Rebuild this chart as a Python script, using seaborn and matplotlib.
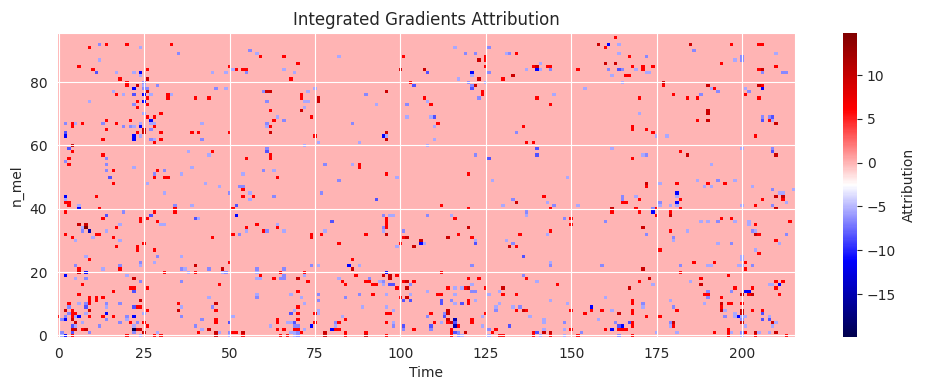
import numpy as np
import seaborn as sns
import matplotlib.pyplot as plt

# attribution levels
R, D, T = 6.1, 9.6, 14.8
A, P, M, B, K, N = -5.5, -6.5, -8.4, -11.2, -15.0, -19.9
BASE = 0.0

n_time = 216
n_mel = 96

top_left = [(9,91,R),(12,92,P),(14,92,R),(20,92,R),(24,91,A),(33,92,R),(35,89,P),(12,87,A),(6,85,R),(10,84,R),(11,83,M),(17,83,A),(22,83,A),(24,83,B),(24,82,A),(26,84,R),(18,81,R),(26,81,D),(20,80,R),(20,79,R),(23,79,D),(25,80,P),(25,79,A),(26,78,P),(25,78,P),(22,78,B),(29,79,P),(16,77,A),(26,77,D),(17,76,R),(19,76,A),(22,76,M),(25,76,B),(27,76,A),(32,76,R),(32,75,R),(33,76,A),(26,75,R),(40,75,R),(44,75,R),(46,78,P),(49,78,A),(9,74,A),(23,74,R),(25,74,B),(22,73,P),(26,73,R),(23,72,R),(25,70,A),(30,70,R),(26,69,R),(28,69,R),(27,68,B),(21,68,R),(14,68,R),(2,67,P),(4,67,R),(4,66,R),(5,67,A),(7,67,R),(13,67,P),(17,67,R),(24,67,A),(27,67,A),(28,67,A),(42,67,A),(19,66,P),(21,66,P),(22,66,A),(24,66,B),(28,66,R),(14,65,R),(27,65,P),(25,65,D),(25,64,D),(2,64,M),(2,63,B),(23,64,R),(30,64,R),(39,64,R),(41,64,R),(50,64,R),(22,63,B),(24,63,A),(50,85,R),(51,84,A),(52,84,R),(54,84,R),(45,83,A),(49,83,A)]

top_mid = [(56,90,P),(58,89,A),(59,88,R),(66,88,R),(82,88,A),(101,88,R),(70,86,R),(55,84,R),(55,83,P),(66,84,A),(69,83,A),(68,81,R),(100,84,D),(107,84,D),(108,83,M),(103,80,R),(104,79,M),(60,77,P),(61,77,D),(62,77,D),(73,77,A),(75,78,A),(71,76,R),(71,75,R),(90,76,P),(96,77,D),(61,74,P),(72,74,A),(73,74,A),(76,75,D),(76,74,D),(93,73,A),(102,73,P),(107,75,R),(108,74,A),(62,71,R),(71,71,D),(72,72,A),(64,69,A),(74,69,R),(102,69,A),(63,68,R),(66,68,P),(61,67,P),(61,66,A),(62,66,R),(62,64,D),(86,67,P),(96,64,D),(96,63,A),(95,63,B),(75,63,R)]

top_right = [(116,91,A),(119,89,P),(122,89,P),(126,91,P),(125,88,R),(125,87,R),(123,87,D),(131,89,A),(132,89,P),(134,89,R),(158,92,D),(161,92,B),(160,91,R),(125,85,R),(141,86,A),(139,85,R),(140,85,D),(143,85,R),(144,85,R),(137,84,A),(140,84,B),(141,84,A),(144,84,P),(152,84,R),(160,86,D),(161,84,P),(162,82,A),(121,83,B),(121,82,A),(126,83,P),(133,82,D),(123,81,D),(130,81,R),(117,81,A),(120,80,P),(125,80,A),(121,79,P),(122,79,D),(121,78,M),(124,77,R),(124,76,R),(154,78,A),(145,76,A),(123,75,P),(140,75,R),(144,73,R),(108,74,A),(109,73,R),(109,69,A),(110,69,M),(111,67,R),(110,66,A),(136,66,R),(134,64,P),(163,94,R),(164,92,A),(185,92,D),(197,92,R),(205,92,R),(206,92,R),(186,90,P),(164,89,A),(167,88,R),(172,88,P),(210,89,A),(163,86,D),(198,87,A),(200,88,P),(200,87,P),(194,86,R),(168,85,R),(171,85,R),(171,84,R),(174,85,R),(210,85,R),(164,84,M),(165,84,P),(169,84,A),(205,84,R),(206,84,D),(206,83,P),(172,83,A),(173,83,A),(212,83,P),(213,83,P),(166,82,R),(167,82,R),(165,80,A),(177,80,D),(177,79,R),(190,79,D),(191,78,A),(192,78,R),(193,77,P),(180,76,R),(188,76,P),(170,75,R),(184,75,R),(187,75,R),(170,70,A),(190,71,D),(190,70,D),(187,68,R),(190,68,D),(168,66,R),(168,65,R),(172,65,R),(174,64,R),(175,63,A),(178,63,A),(205,79,D),(206,79,R),(206,78,B),(201,78,A),(202,77,P),(201,76,R),(205,75,R),(206,69,P),(206,68,M),(208,69,P),(209,69,M),(208,68,R),(209,68,A),(210,67,D),(204,63,R)]

mid_left = [(22,62,B),(13,62,R),(27,62,P),(28,62,A),(30,62,R),(28,61,R),(42,62,P),(4,60,D),(3,59,M),(4,58,R),(13,57,R),(14,56,P),(3,56,R),(2,55,P),(3,54,R),(14,54,P),(38,58,A),(44,57,A),(45,58,R),(22,53,A),(39,53,A),(14,52,P),(16,52,R),(29,52,R),(31,52,P),(28,51,P),(28,50,R),(36,51,A),(31,50,R),(32,50,R),(15,50,M),(16,48,R),(26,48,A),(43,48,A),(54,51,A),(47,47,A),(53,47,P),(54,47,P),(54,46,R),(31,45,A),(50,45,P),(54,44,R),(2,44,B),(2,43,A),(11,44,R),(2,42,R),(3,42,R),(3,41,R),(6,41,A),(6,40,B),(12,40,R),(34,41,P),(34,40,R),(34,39,R),(39,41,A),(52,41,M),(51,40,R),(2,39,R),(19,39,P),(28,39,R),(14,38,M),(27,38,M),(52,38,B),(13,37,R),(24,37,R),(24,36,R),(26,37,R),(40,37,M),(41,37,A),(29,36,R),(6,35,D),(8,35,D),(8,34,T),(7,34,A),(9,33,K),(7,33,P),(18,35,A),(17,34,R),(30,35,A),(31,35,A),(14,33,A),(2,32,R),(11,32,R),(12,32,R),(51,32,R),(53,32,P)]

mid_mid = [(72,60,A),(76,61,A),(88,61,A),(95,63,B),(96,63,A),(96,62,D),(108,60,A),(61,59,P),(61,58,M),(55,56,R),(62,57,R),(62,56,R),(78,54,P),(86,54,A),(88,54,R),(88,53,R),(54,51,A),(60,52,P),(63,52,A),(64,50,R),(96,51,R),(99,50,A),(82,49,P),(56,45,A),(57,44,R),(56,43,A),(63,44,P),(77,45,P),(93,43,M),(95,38,P),(97,38,A),(98,38,A),(108,38,P),(96,37,R),(96,36,R),(96,35,R),(96,34,R),(95,34,P),(95,33,A),(96,32,D),(80,36,M),(58,35,R),(55,34,R),(55,33,A),(64,35,A),(64,34,R),(60,33,R),(61,33,P),(66,33,A),(74,32,R),(77,32,R),(90,32,R),(78,33,A),(101,33,P)]

mid_right = [(110,62,A),(137,61,R),(139,61,R),(140,59,M),(140,57,M),(162,59,A),(122,57,P),(126,56,M),(120,51,R),(127,49,A),(149,50,A),(142,44,R),(133,43,P),(134,42,D),(143,42,A),(112,41,R),(130,41,A),(145,41,P),(152,41,A),(120,40,R),(144,40,R),(162,40,D),(162,39,R),(108,38,P),(115,38,A),(137,39,P),(137,38,A),(116,37,R),(148,37,P),(150,37,R),(150,35,R),(160,36,P),(120,34,D),(144,33,R),(117,32,R),(135,32,R),(143,32,A),(182,58,R),(184,57,D),(171,57,A),(172,57,P),(168,56,R),(191,54,A),(200,59,A),(209,59,P),(209,58,M),(210,57,D),(187,49,A),(193,49,P),(198,49,A),(172,48,D),(172,47,R),(176,48,A),(181,48,R),(190,48,R),(195,48,R),(189,47,A),(191,47,A),(203,47,A),(209,46,P),(215,46,A),(211,45,A),(212,45,A),(165,44,P),(165,43,P),(169,44,A),(170,43,R),(165,42,R),(166,42,R),(181,45,B),(181,44,A),(182,43,R),(181,42,B),(176,42,P),(176,41,A),(179,41,A),(181,41,A),(169,40,R),(170,39,R),(174,40,P),(174,39,B),(175,40,R),(175,38,R),(179,39,R),(179,38,D),(182,40,R),(200,41,A),(204,41,R),(209,41,P),(210,40,D),(210,44,D),(212,44,D),(212,43,R),(213,42,A),(206,43,R),(188,36,A),(190,36,A),(193,36,P),(198,36,A),(202,36,A),(202,35,A),(194,37,R),(197,37,R),(204,35,R),(214,36,R),(171,34,D),(179,33,R),(184,33,A),(203,33,P),(204,33,A),(172,32,P),(204,32,D),(205,32,R),(213,32,P)]

low_left = [(4,31,R),(10,31,A),(16,31,R),(45,31,R),(5,30,A),(18,30,A),(17,28,R),(23,28,R),(23,27,R),(25,29,R),(28,27,R),(8,25,A),(29,25,P),(36,25,A),(9,24,R),(28,23,A),(24,23,P),(50,23,R),(5,22,P),(18,22,P),(24,22,A),(40,22,D),(6,21,R),(13,21,A),(18,21,R),(36,21,P),(37,21,A),(44,21,P),(48,21,D),(6,20,D),(8,20,B),(31,20,R),(38,20,A),(40,20,R),(48,20,A),(49,20,P),(2,19,B),(20,19,A),(5,18,A),(8,18,P),(22,18,D),(24,17,P),(36,17,P),(7,16,R),(47,16,R),(21,15,R),(22,15,R),(26,15,R),(16,14,R),(22,14,M),(6,13,R),(44,12,A),(9,12,R),(9,11,R),(11,12,R),(11,11,R),(13,12,R),(24,11,D),(3,10,R),(6,10,A),(8,10,P),(9,10,R),(14,10,P),(18,10,P),(35,10,R),(46,10,D),(3,9,P),(8,9,M),(14,9,A),(22,9,M),(23,9,R),(24,9,R),(36,9,A),(45,9,P),(2,8,D),(4,8,R),(9,8,D),(26,8,R),(35,8,D),(46,8,R),(3,7,P),(4,7,R),(5,7,R),(8,7,A),(14,7,B),(25,7,A),(0,6,R),(2,6,P),(4,6,R),(5,6,A),(6,6,B),(9,6,R),(13,6,R),(16,6,R),(20,6,P),(22,6,B),(36,6,P),(51,6,A),(1,5,P),(2,5,B),(4,5,D),(14,5,P),(20,5,A),(42,5,P),(46,5,R),(5,4,D),(7,4,A),(18,4,P),(21,4,R),(23,4,P),(25,4,R),(46,4,R),(50,4,M),(4,3,M),(5,3,A),(12,3,P),(22,3,A),(26,3,R),(40,3,P),(4,2,D),(5,2,D),(7,2,R),(8,2,D),(22,2,N),(23,2,D),(24,2,D),(42,2,A),(44,2,D),(1,1,P),(4,1,M),(9,1,P),(22,1,P),(25,1,D),(29,1,A),(41,1,R),(46,1,D),(47,1,A),(50,1,P),(51,1,R),(52,1,R),(54,1,D),(1,0,A),(2,0,B),(4,0,R),(20,0,R),(24,0,A),(28,0,R),(30,0,R),(46,0,D),(50,0,A),(54,0,R)]

low_mid = [(74,31,R),(101,31,R),(102,31,D),(106,30,D),(106,29,B),(107,29,A),(82,29,R),(100,29,R),(99,28,A),(104,28,D),(86,24,R),(74,22,P),(76,22,A),(85,22,B),(88,22,A),(58,21,P),(66,21,P),(86,21,D),(58,20,A),(65,20,R),(72,20,R),(96,20,B),(59,19,R),(66,19,P),(72,19,A),(87,19,R),(95,19,D),(97,19,D),(99,19,R),(58,18,A),(59,18,A),(63,18,R),(65,18,P),(66,18,P),(70,18,D),(82,18,A),(91,18,P),(97,18,D),(73,17,R),(83,17,R),(90,17,R),(91,17,R),(94,17,A),(95,17,P),(101,17,R),(102,17,D),(104,17,R),(84,16,R),(92,16,R),(93,16,R),(95,16,A),(97,16,M),(98,16,M),(103,16,P),(99,15,R),(102,15,D),(70,14,R),(108,14,A),(58,13,A),(68,13,A),(76,13,P),(88,13,P),(92,13,R),(96,13,A),(103,13,A),(58,12,P),(71,12,A),(84,12,P),(100,12,R),(102,12,D),(76,11,P),(101,11,M),(103,11,M),(72,10,A),(70,9,R),(89,9,A),(96,9,A),(69,8,A),(76,8,A),(98,8,A),(68,7,M),(70,7,R),(75,7,R),(76,7,A),(96,7,R),(97,7,R),(83,6,A),(108,6,P),(64,5,R),(70,5,R),(84,5,R),(64,4,R),(67,4,A),(68,4,A),(69,4,M),(75,4,R),(81,4,P),(82,4,R),(96,4,R),(98,4,A),(62,3,A),(69,3,P),(70,3,P),(74,3,B),(81,3,A),(98,3,P),(101,3,M),(64,2,R),(66,2,R),(69,2,R),(70,2,R),(72,2,A),(80,2,B),(81,2,R),(82,2,R),(101,2,P),(104,2,R),(68,1,A),(69,1,A),(70,1,P),(71,1,R),(78,1,D),(84,1,R),(90,1,R),(65,0,R),(67,0,R),(69,0,A),(70,0,P),(78,0,D),(84,0,R),(90,0,D),(96,0,R)]

low_right = [(114,31,D),(121,31,R),(122,30,A),(122,29,M),(131,30,A),(133,29,P),(132,28,D),(134,28,R),(136,25,M),(144,23,A),(144,22,P),(121,22,P),(159,22,P),(112,20,R),(136,19,P),(120,18,R),(123,18,R),(137,18,R),(140,17,A),(121,16,A),(146,16,R),(114,15,R),(116,15,A),(118,15,A),(119,15,R),(120,15,D),(125,15,R),(130,15,D),(108,14,A),(121,14,P),(122,14,P),(129,14,A),(111,13,R),(112,13,R),(116,13,A),(126,13,A),(130,13,R),(134,13,R),(160,12,A),(112,11,M),(115,11,P),(120,11,R),(122,11,A),(144,11,A),(112,10,M),(116,10,A),(118,10,M),(120,10,R),(129,10,A),(149,10,A),(128,9,A),(133,9,A),(135,9,P),(156,9,B),(114,8,D),(128,8,P),(134,8,R),(136,8,D),(137,8,R),(150,8,R),(156,8,R),(159,8,R),(162,8,A),(109,7,R),(113,7,P),(114,7,D),(125,7,R),(154,7,R),(108,6,P),(113,6,M),(124,6,A),(138,6,A),(114,5,D),(116,5,K),(121,5,R),(142,5,A),(158,5,A),(110,4,R),(112,4,A),(114,4,R),(115,4,D),(116,4,M),(121,4,R),(142,4,A),(148,4,P),(109,3,M),(116,3,K),(117,3,R),(124,3,A),(132,3,M),(109,2,P),(115,2,R),(126,2,P),(128,2,R),(142,2,A),(148,2,A),(150,2,R),(160,2,R),(162,2,B),(115,1,R),(116,1,M),(117,1,P),(119,1,D),(127,1,R),(139,1,R),(140,1,M),(142,1,D),(144,1,D),(153,1,P),(115,0,R),(117,0,P),(118,0,A),(126,0,A),(129,0,R),(130,0,R),(139,0,R),(141,0,A),(144,0,R),(148,0,A),(152,0,R),(180,31,P),(180,30,A),(210,30,R),(211,29,A),(193,29,A),(197,29,P),(176,27,R),(204,27,A),(205,26,R),(200,25,A),(200,24,A),(186,23,R),(192,23,R),(201,23,R),(182,22,P),(190,22,A),(191,22,A),(199,22,A),(200,22,A),(203,22,P),(171,21,D),(201,21,R),(182,20,R),(196,19,R),(173,18,D),(188,18,R),(170,17,R),(185,17,A),(210,17,R),(212,17,R),(174,16,A),(188,16,D),(208,16,A),(209,16,A),(211,16,B),(167,15,D),(198,15,R),(203,15,R),(210,15,R),(190,14,P),(197,14,P),(201,14,B),(202,14,B),(189,13,R),(190,13,R),(200,13,D),(202,13,R),(203,13,D),(211,13,R),(190,12,P),(194,12,R),(168,11,R),(179,11,A),(168,10,R),(171,10,P),(189,10,A),(194,10,D),(196,10,R),(197,10,R),(200,10,R),(171,9,A),(180,9,P),(194,9,R),(162,8,A),(168,8,R),(181,8,R),(194,8,D),(195,8,A),(200,8,D),(203,8,R),(206,8,R),(164,7,D),(168,7,R),(198,7,A),(200,7,D),(206,7,M),(172,6,R),(176,6,R),(195,6,P),(198,6,A),(199,6,B),(200,6,A),(201,6,A),(208,6,A),(200,5,P),(206,5,M),(208,5,M),(163,4,P),(167,4,M),(168,4,R),(179,4,P),(180,4,D),(200,4,D),(209,4,D),(210,4,A),(164,3,M),(165,3,B),(168,3,R),(179,3,A),(180,3,R),(201,3,A),(209,3,A),(162,2,B),(164,2,R),(165,2,R),(166,2,R),(196,2,R),(175,1,A),(181,1,A),(192,1,R),(196,1,R),(197,1,A),(200,1,P),(201,1,R),(204,1,D),(205,1,A),(208,1,A),(210,1,D),(164,0,P),(168,0,R),(196,0,R),(200,0,A),(204,0,R),(213,0,R)]

attribution = np.full((n_mel, n_time), BASE)
for region in [top_left, top_mid, top_right, mid_left, mid_mid, mid_right, low_left, low_mid, low_right]:
    for t, m, v in region:
        attribution[m, t] = v

sns.set_style("darkgrid")

fig = plt.figure(figsize=(9.25, 3.9), dpi=100)
ax = fig.add_axes([57 / 925, 1 - 337 / 390, 738 / 925, 304 / 390])
cax = fig.add_axes([843 / 925, 1 - 337 / 390, 14 / 925, 304 / 390])

im = ax.imshow(attribution, origin="lower", aspect="auto", cmap="seismic", interpolation="nearest")
ax.set_title("Integrated Gradients Attribution")
ax.set_xlabel("Time")
ax.set_ylabel("n_mel")

cbar = fig.colorbar(im, cax=cax)
cbar.set_label("Attribution")
cbar.outline.set_visible(False)

fig.savefig("out.png", dpi=100)
